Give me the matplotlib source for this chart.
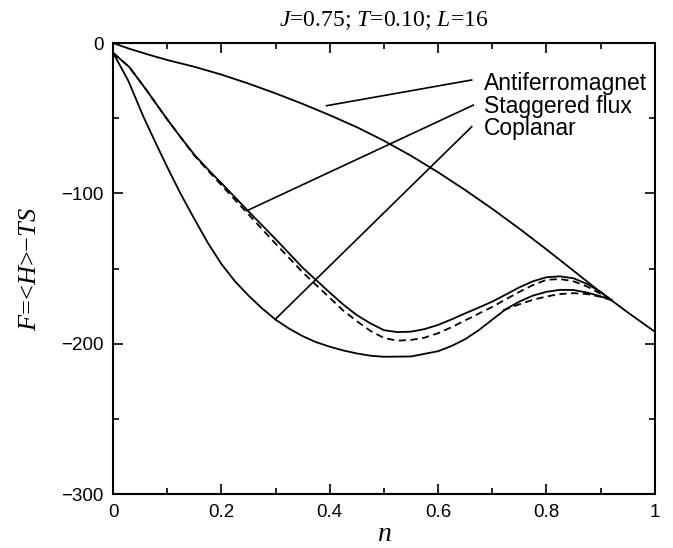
import matplotlib
matplotlib.use("Agg")
import numpy as np
from matplotlib import pyplot as plt

# density grid and free energies
n_af = [0, 0.03, 0.068, 0.1, 0.15, 0.2, 0.25, 0.3, 0.35, 0.4, 0.45, 0.5,
        0.55, 0.6, 0.65, 0.7, 0.75, 0.8, 0.85, 0.9, 0.95, 1.0]
F_af = [0, -3.8, -8, -11.3, -15.8, -21, -27, -33.5, -40.5, -48, -56, -65,
        -75, -86, -97.8, -110.3, -123.5, -137.3, -151.5, -165.8, -179.2, -192]

n_sf = [0, 0.03, 0.06, 0.1, 0.125, 0.15, 0.175, 0.2, 0.25, 0.3, 0.35, 0.4,
        0.425, 0.45, 0.475, 0.5, 0.525, 0.55, 0.575, 0.6, 0.625, 0.65, 0.675,
        0.7, 0.725, 0.75, 0.775, 0.8, 0.825, 0.85, 0.875, 0.9, 0.92]
F_sf = [-6.5, -16, -30.5, -50.8, -62.8, -74.3, -84, -93.2, -112, -130.4, -149.5,
        -166, -174, -181, -186.5, -191, -192.3, -192, -190.3, -187.5, -183.8,
        -179.8, -176, -172, -167.3, -162.5, -158.5, -155.8, -155.2, -156.5,
        -160.3, -165.5, -171]
F_sf_dash = [-6.5, -16, -30.5, -50.8, -62.8, -74.8, -84.8, -94.5, -114, -133.5,
             -152.5, -169.5, -178, -185, -191.5, -196.2, -198, -197.5, -196,
             -193, -189, -184.5, -180, -175.5, -170.5, -165.5, -161, -157.5,
             -157, -158.5, -162, -166.8, -171]

n_cp = [0, 0.028, 0.056, 0.08, 0.1, 0.125, 0.15, 0.175, 0.2, 0.225, 0.25, 0.275,
        0.3, 0.325, 0.35, 0.375, 0.4, 0.425, 0.45, 0.475, 0.5, 0.55, 0.6, 0.625,
        0.65, 0.675, 0.7, 0.725, 0.75, 0.775, 0.8, 0.825, 0.85, 0.875, 0.9, 0.92]
F_cp = [-6.5, -25, -49, -67.5, -82.5, -100.5, -117, -133, -147, -158.5, -168,
        -176.5, -184, -190, -195, -199, -202, -204.5, -206.5, -208, -208.7,
        -208.5, -205, -201.5, -197, -191, -184, -177, -172, -168, -165.5, -164.2,
        -164.3, -166, -168.5, -171]

n_cp_dash = [0.72, 0.75, 0.775, 0.8, 0.825, 0.85, 0.875, 0.9, 0.92]
F_cp_dash = [-177.8, -173.8, -170.8, -168.6, -167, -166.4, -167, -168.8, -171]

labels = ["Antiferromagnet", "Staggered flux", "Coplanar"]

plt.rcParams['mathtext.fontset'] = 'custom'
plt.rcParams['mathtext.rm'] = 'Liberation Serif'
plt.rcParams['mathtext.it'] = 'Liberation Serif:italic'
plt.rcParams['font.family'] = ['Liberation Sans', 'DejaVu Sans']

fig = plt.figure(figsize=(6.73, 5.48), dpi=100)
ax = fig.add_axes([0.168, 0.0985, 0.805, 0.823])

lw = 1.3
ax.plot(n_af, F_af, c="k", lw=lw)
ax.plot(n_sf, F_sf, c="k", lw=lw)
ax.plot(n_sf, F_sf_dash, c="k", lw=lw, ls=(0, (4, 2.5)))
ax.plot(n_cp, F_cp, c="k", lw=lw)
ax.plot(n_cp_dash, F_cp_dash, c="k", lw=lw, ls=(0, (4, 2.5)))

# label pointers
ends = [(0.394, -41.7), (0.2467, -111.6), (0.299, -183.9)]
starts = [(0.662, -24.6), (0.665, -41.3), (0.662, -55.7)]
text_y = [-31.3, -46.8, -61.2]
for lab, (x0, y0), (x1, y1), ty in zip(labels, starts, ends, text_y):
    ax.plot([x0, x1], [y0, y1], c="k", lw=1.2)
    ax.text(0.685, ty, lab, fontsize=16.5, va="baseline", ha="left")

ax.set_xlim(0, 1)
ax.set_ylim(-300, 0)
ax.set_xticks(np.arange(0, 1.01, 0.2))
ax.set_xticklabels(["0", "0.2", "0.4", "0.6", "0.8", "1"])
ax.set_xticks(np.arange(0, 1.01, 0.1), minor=True)
ax.set_yticks([0, -100, -200, -300])
ax.set_yticks(np.arange(-300, 1, 50), minor=True)
ax.tick_params(which="both", direction="in", top=True, right=True,
               labelsize=13.5, width=1.2)
ax.tick_params(which="major", length=7, pad=7)
ax.tick_params(which="minor", length=4)
for s in ax.spines.values():
    s.set_linewidth(1.5)

ax.set_xlabel(r"$n$", fontsize=20, labelpad=0)
ax.set_ylabel(r"$F$=<$H$>−$TS$", fontsize=19, family="Liberation Serif",
              labelpad=14)
ax.set_title(r"$J$=0.75; $T$=0.10; $L$=16", fontsize=17,
             family="Liberation Serif", pad=12)

fig.savefig("out.png", dpi=100)
